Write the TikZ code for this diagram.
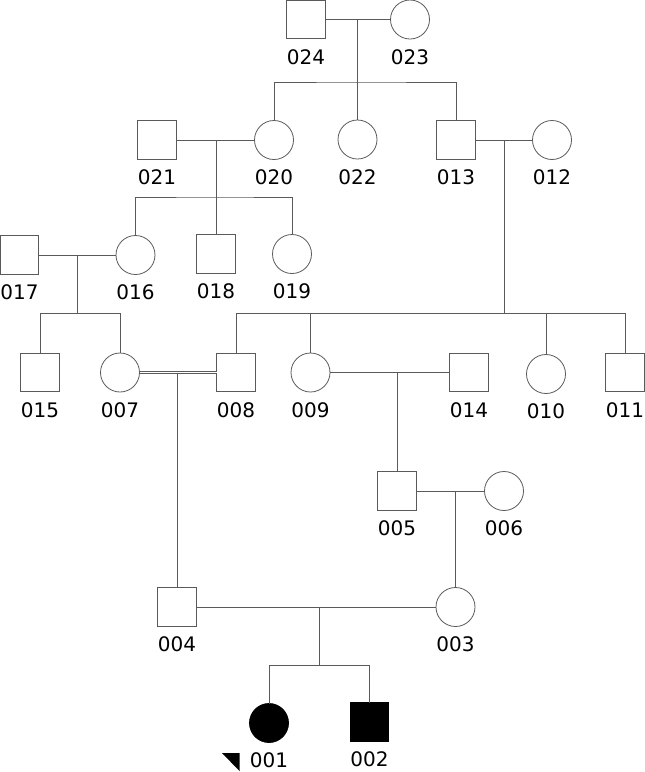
\documentclass[tikz,border=0pt]{standalone}
\usepackage{fontspec}
\setmainfont{DejaVu Sans}
\definecolor{PedLine}{RGB}{90,90,90}
\usepackage{tikz}
\usetikzlibrary{calc}

\begin{document}
\begin{tikzpicture}[x=1pt, y=-1pt, line width=0.8pt,
        lc/.style={draw=PedLine},
        male/.style={rectangle, draw=PedLine, minimum size=38.5pt, inner sep=0pt, outer sep=0pt},
        female/.style={circle, draw=PedLine, minimum size=39pt, inner sep=0pt, outer sep=0pt},
        lbl/.style={font=\fontsize{20}{20}\selectfont, inner sep=0pt}]
        \useasboundingbox (0,0) rectangle (645,772);
        % generation I
        \node[male] (n024) at (306,19.5) {};
        \node[female] (n023) at (410,19.5) {};
        % generation II
        \node[male] (n021) at (157,140) {};
        \node[female] (n020) at (274,140) {};
        \node[female] (n022) at (357.5,139.5) {};
        \node[male] (n013) at (456,140) {};
        \node[female] (n012) at (552,140) {};
        % generation III
        \node[male] (n017) at (19.5,255) {};
        \node[female] (n016) at (135.5,255) {};
        \node[male] (n018) at (216,254) {};
        \node[female] (n019) at (292,254) {};
        % generation IV
        \node[male] (n015) at (40,372.5) {};
        \node[female] (n007) at (120,372.5) {};
        \node[male] (n008) at (236,372.5) {};
        \node[female] (n009) at (310.5,372.5) {};
        \node[male] (n014) at (469,372.5) {};
        \node[female] (n010) at (546,374) {};
        \node[male] (n011) at (625,372.5) {};
        % generation V
        \node[male] (n005) at (397,491) {};
        \node[female] (n006) at (504,491) {};
        \node[male] (n004) at (177,607) {};
        \node[female] (n003) at (455.5,607) {};
        % generation VI
        \node[female, fill=black, draw=black] (n001) at (269,723) {};
        \node[male, fill=black, draw=black] (n002) at (369.5,722) {};

        \foreach \p in {024,023,021,020,022,013,012,017,016,018,019,015,007,008,009,014,010,011,005,006,004,003,001,002}
            \node[lbl] (l\p) at ($(n\p)+(0,37.5)$) {\p};

        \fill (222,753) -- (239.5,753) -- (239.5,771) -- cycle;

        % couples
        \draw[lc] (n024) -- (n023);
        \draw[lc] (n021) -- (n020);
        \draw[lc] (n013) -- (n012);
        \draw[lc] (n017) -- (n016);
        \draw[lc, double=white, double distance=1.6pt] (n007) -- (n008);
        \draw[lc] (n009) -- (n014);
        \draw[lc] (n005) -- (n006);
        \draw[lc] (n004) -- (n003);

        \coordinate (m1) at (357.5,19.5);  \coordinate (s1) at (357.5,82);
        \coordinate (m2) at (216,140);     \coordinate (s2) at (216,197);
        \coordinate (m3) at (504,140);     \coordinate (s3) at (504,313.5);
        \coordinate (m4) at (77.7,255);    \coordinate (s4) at (77.7,313.5);
        \coordinate (m5) at (177,372.5);
        \coordinate (m6) at (397,372.5);
        \coordinate (m7) at (455.5,491);
        \coordinate (m8) at (319,607);     \coordinate (s8) at (319,665.5);

        % descent
        \draw[lc] (m1) -- (n022.north);
        \draw[lc] (n020.north) |- (s1) -| (n013.north);
        \draw[lc] (m2) -- (n018.north);
        \draw[lc] (n016.north) |- (s2) -| (n019.north);
        \draw[lc] (m3) -- (s3);
        \draw[lc] (n008.north) |- (s3) -| (n011.north);
        \draw[lc] (n009.north) -- (n009.north |- s3);
        \draw[lc] (n010.north) -- (n010.north |- s3);
        \draw[lc] (m4) -- (s4);
        \draw[lc] (n015.north) |- (s4) -| (n007.north);
        \draw[lc] (m5) -- (n004.north);
        \draw[lc] (m6) -- (n005.north);
        \draw[lc] (m7) -- (n003.north);
        \draw[lc] (m8) -- (s8);
        \draw[lc] (n001.north) |- (s8) -| (n002.north);
    \end{tikzpicture}
\end{document}
